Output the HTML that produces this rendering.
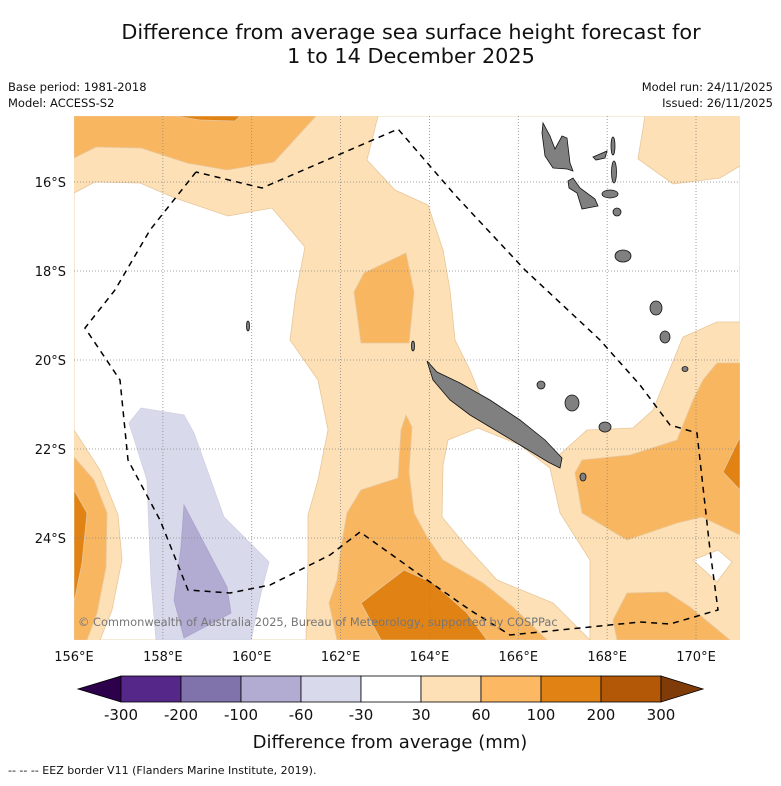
<!DOCTYPE html>
<html><head><meta charset="utf-8"><style>
html,body{margin:0;padding:0;background:#fff;}
body{width:781px;height:781px;overflow:hidden;font-family:"Liberation Sans","DejaVu Sans",sans-serif;}
text{font-family:"DejaVu Sans","Liberation Sans",sans-serif;}
</style></head><body>
<svg id="c" width="781" height="781" viewBox="0 0 781 781" xmlns="http://www.w3.org/2000/svg">
<defs><clipPath id="mapclip"><rect x="74" y="116" width="666" height="524"/></clipPath></defs>
<rect x="0" y="0" width="781" height="781" fill="#fff"/>
<text x="411" y="39" text-anchor="middle" font-size="20.8" fill="#111">Difference from average sea surface height forecast for</text>
<text x="411" y="63" text-anchor="middle" font-size="20.8" fill="#111">1 to 14 December 2025</text>
<text x="8" y="91" font-size="11.5" fill="#111">Base period: 1981-2018</text>
<text x="8" y="107" font-size="11.5" fill="#111">Model: ACCESS-S2</text>
<text x="773" y="91" text-anchor="end" font-size="11.5" fill="#111">Model run: 24/11/2025</text>
<text x="773" y="107" text-anchor="end" font-size="11.5" fill="#111">Issued: 26/11/2025</text>

<g clip-path="url(#mapclip)" stroke="#e8c79a" stroke-width="0.8">
<rect x="74" y="116" width="666" height="524" fill="#fde0b6" stroke="none"/>
<polygon fill="#fff" points="74,193 95,182 140,183 175,198 228,216 272,208 305,247 296,293 290,340 318,380 328,430 318,480 308,515 308,560 306,640 100,640 112,610 122,560 118,515 100,470 74,430"/>
<polygon fill="#fff" points="378,116 367,160 395,190 428,205 443,250 450,290 455,340 470,370 480,395 557,457 587,430 633,428 653,410 683,337 717,322 740,322 740,166 720,178 673,184 638,159 645,116"/>
<polygon fill="#fff" points="448,440 478,428 520,445 550,468 560,513 590,560 590,640 553,603 497,580 467,547 442,517 443,465"/>
<polygon fill="#fff" points="693,560 718,550 732,562 717,582"/>
<polygon fill="#f9b661" points="74,116 316,116 274,162 227,170 187,163 141,148 96,147 74,158"/>
<polygon fill="#e08214" points="175,116 240,116 235,121 200,120"/>
<polygon fill="#f9b661" points="364,273 406,253 414,292 409,343 361,343 354,292"/>
<polygon fill="#f9b661" points="74,457 94,480 107,513 106,567 97,613 87,640 74,640"/>
<polygon fill="#e08214" points="74,490 87,513 82,563 74,603"/>
<polygon fill="#f9b661" points="406,415 412,427 409,472 414,513 427,537 443,560 483,583 513,607 547,640 337,640 329,603 337,580 341,547 347,513 361,490 398,478 401,430"/>
<polygon fill="#e08214" points="404,570 433,583 467,613 487,640 381,640 361,603"/>
<polygon fill="#f9b661" points="582,460 630,455 677,440 693,400 703,380 717,363 740,363 740,535 702,517 677,523 627,540 582,513 575,473"/>
<polygon fill="#e08214" points="740,437 723,472 740,490"/>
<polygon fill="#f9b661" points="627,593 667,592 690,607 730,640 617,640 613,620"/>
<polygon fill="#d8daeb" stroke="#cfd0e4" points="129,423 141,408 184,415 194,433 224,517 269,562 261,593 251,640 156,640 151,580 147,480"/>
<polygon fill="#b2abd2" stroke="#aaa3cc" points="184,505 227,587 231,613 184,638 174,600 181,547"/>
</g>

<g stroke="#888" stroke-width="0.8" stroke-dasharray="1,2" id="grid"></g>

<g fill="#808080" stroke="#111" stroke-width="0.8">
<polygon points="427,361 437,372 460,383 490,400 520,420 545,440 562,458 560,468 548,462 520,445 495,430 470,415 450,400 433,380"/>
<polygon points="543,123 550,136 555,149 562,136 567,138 570,163 573,171 567,169 553,168 545,156 542,133"/>
<polygon points="568,181 573,178 580,188 595,199 598,206 582,209 577,193 569,188"/>
<polygon points="593,157 607,151 605,158 596,160"/>
<ellipse cx="613" cy="146" rx="2" ry="9"/><ellipse cx="614" cy="172" rx="2.5" ry="11"/>
<ellipse cx="610" cy="194" rx="8" ry="4"/><ellipse cx="617" cy="212" rx="4" ry="4"/>
<ellipse cx="623" cy="256" rx="8" ry="6"/><ellipse cx="656" cy="308" rx="6" ry="7"/>
<ellipse cx="665" cy="337" rx="5" ry="6"/><ellipse cx="685" cy="369" rx="3" ry="2.5"/>
<ellipse cx="541" cy="385" rx="4" ry="4"/><ellipse cx="572" cy="403" rx="7" ry="8"/>
<ellipse cx="605" cy="427" rx="6" ry="5"/><ellipse cx="583" cy="477" rx="3" ry="4"/>
<ellipse cx="248" cy="326" rx="1.5" ry="5"/><ellipse cx="413" cy="346" rx="1.5" ry="5"/>
</g>

<polyline fill="none" stroke="#000" stroke-width="1.5" stroke-dasharray="6,5" points="196,172 150,230 115,290 85,328 120,380 128,460 160,520 188,590 230,593 270,585 330,555 360,532 420,575 470,610 510,635 580,628 640,622 670,624 718,610 710,550 697,433 670,425 640,385 600,340 525,270 455,195 398,129 262,188 196,172"/>

<text x="78" y="626" font-size="11.4" fill="#777">© Commonwealth of Australia 2025, Bureau of Meteorology, supported by COSPPac</text>
<g id="axes"></g>
<g id="cbar"></g>
<text x="390" y="748" text-anchor="middle" font-size="18" fill="#111">Difference from average (mm)</text>
<text x="8" y="774" font-size="11" fill="#111">--  --  -- EEZ border V11 (Flanders Marine Institute, 2019).</text>
</svg>
<script>
const lonTicks = [156,158,160,162,164,166,168,170];
const latTicks = [16,18,20,22,24];
const levels = [-300,-200,-100,-60,-30,30,60,100,200,300];
const colors = ['#542788','#8073ac','#b2abd2','#d8daeb','#ffffff','#fee0b6','#fdb863','#e08214','#b35806'];
const NS='http://www.w3.org/2000/svg';
const xLon = lon => 74 + (lon-156)*44.43;
const yLat = lat => 182 + (lat-16)*44.5;
function mk(tag, attrs, parent){const e=document.createElementNS(NS,tag);for(const k in attrs)e.setAttribute(k,attrs[k]);parent.appendChild(e);return e;}
const grid=document.getElementById('grid'), axes=document.getElementById('axes'), cb=document.getElementById('cbar');
lonTicks.forEach(l=>{
  if(l>156){const g=mk('line',{x1:xLon(l),x2:xLon(l),y1:116,y2:640},grid);
  
  }
  const t=mk('text',{x:xLon(l),y:661,'text-anchor':'middle','font-size':13,fill:'#111'},axes);
  
  
  t.textContent=l+'°E';
});
latTicks.forEach(l=>{
  const g=mk('line',{x1:74,x2:740,y1:yLat(l),y2:yLat(l)},grid);
  
  
  const t=mk('text',{x:66,y:yLat(l)+5,'text-anchor':'end','font-size':13,fill:'#111'},axes);
  
  
  t.textContent=l+'°S';
});
const cbX0=121, cbW=60, cbY=676, cbH=26;
const lt=mk('polygon',{points:`78,${cbY+cbH/2} ${cbX0},${cbY} ${cbX0},${cbY+cbH}`,fill:'#2d004b',stroke:'#000','stroke-width':0.8},cb);


colors.forEach((c,i)=>{
  const r=mk('rect',{x:cbX0+i*cbW,y:cbY,width:cbW,height:cbH,fill:c,stroke:'#000','stroke-width':0.8},cb);
  
  
});
const xe=cbX0+colors.length*cbW;
const rt=mk('polygon',{points:`${xe},${cbY} ${xe+42},${cbY+cbH/2} ${xe},${cbY+cbH}`,fill:'#7f3b08',stroke:'#000','stroke-width':0.8},cb);


levels.forEach((v,i)=>{
  const t=mk('text',{x:cbX0+i*cbW,y:720,'text-anchor':'middle','font-size':15,fill:'#111'},cb);
  
  
  t.textContent=v;
});
</script>
</body></html>
